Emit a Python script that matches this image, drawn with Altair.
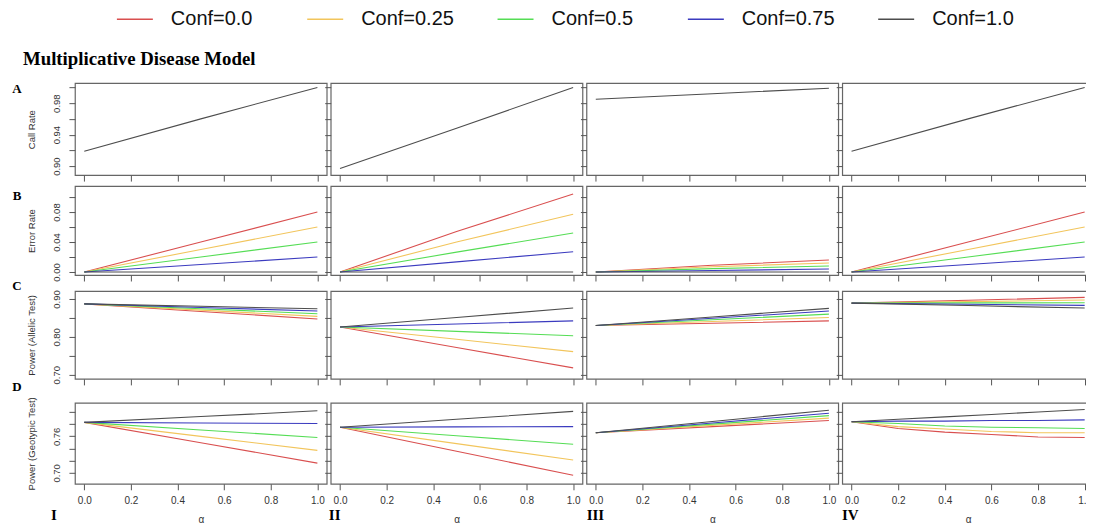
import altair as alt
import pandas as pd

# ---------------- data ----------------
conf_labels = ["Conf=0.0", "Conf=0.25", "Conf=0.5", "Conf=0.75", "Conf=1.0"]
conf_colors = ["#d94f4f", "#f2c55c", "#55dd55", "#3b3bbf", "#4d4d4d"]

x_3 = [0.0, 0.5, 1.0]
x_6 = [0.0, 0.2, 0.4, 0.6, 0.8, 1.0]

# Row A: call rate (identical for every confidence level, drawn as Conf=1.0)
call_I = [0.919, 0.960, 1.000]
call_II = [0.897, 0.948, 1.000]
call_III = [0.985, 0.992, 0.999]
call_IV = [0.919, 0.960, 1.000]

# Row B: error rate, series order = conf_labels
err_I = [[0, 0.040, 0.080], [0, 0.030, 0.060], [0, 0.020, 0.040], [0, 0.010, 0.020], [0, 0, 0]]
err_II = [[0, 0.054, 0.104], [0, 0.040, 0.077], [0, 0.0265, 0.052], [0, 0.0135, 0.027], [0, 0, 0]]
err_III = [[0, 0.009, 0.016], [0, 0.007, 0.012], [0, 0.0045, 0.008], [0, 0.002, 0.004], [0, 0, 0]]
err_IV = [[0, 0.040, 0.080], [0, 0.030, 0.060], [0, 0.020, 0.040], [0, 0.010, 0.020], [0, 0, 0]]

# Row C: power of the allelic test
alle_I = [[0.887, 0.867, 0.847], [0.887, 0.8705, 0.854], [0.887, 0.874, 0.861],
          [0.887, 0.8775, 0.868], [0.887, 0.8805, 0.874]]
alle_II = [[0.826, 0.772, 0.718], [0.826, 0.7935, 0.761], [0.826, 0.8145, 0.803],
           [0.826, 0.834, 0.842], [0.826, 0.851, 0.876]]
alle_III = [[0.830, 0.836, 0.842], [0.830, 0.8405, 0.851], [0.830, 0.845, 0.860],
            [0.830, 0.849, 0.868], [0.830, 0.8525, 0.875]]
alle_IV = [[0.889, 0.8965, 0.904], [0.889, 0.893, 0.897], [0.889, 0.8895, 0.890],
           [0.889, 0.886, 0.883], [0.889, 0.8825, 0.876]]

# Row D: power of the genotypic test
geno_I = [[0.783, 0.7495, 0.716], [0.783, 0.760, 0.737], [0.783, 0.7705, 0.758],
          [0.783, 0.782, 0.781], [0.783, 0.7925, 0.802]]
geno_II = [[0.775, 0.7355, 0.696], [0.775, 0.748, 0.721], [0.775, 0.761, 0.747],
           [0.775, 0.7755, 0.776], [0.775, 0.788, 0.801]]
geno_III = [[0.766, 0.776, 0.786], [0.766, 0.778, 0.790], [0.766, 0.780, 0.794],
            [0.766, 0.782, 0.798], [0.766, 0.7845, 0.803]]
geno_IV = [[0.784, 0.773, 0.767, 0.763, 0.759, 0.758],
           [0.784, 0.776, 0.772, 0.768, 0.766, 0.766],
           [0.784, 0.781, 0.777, 0.775, 0.774, 0.773],
           [0.784, 0.785, 0.785, 0.786, 0.786, 0.787],
           [0.784, 0.788, 0.792, 0.796, 0.800, 0.804]]

chart_title = "Multiplicative Disease Model"
row_titles = ["Call Rate", "Error Rate", "Power (Allelic Test)", "Power (Geotypic Test)"]
row_letters = ["A", "B", "C", "D"]
col_numerals = ["I", "II", "III", "IV"]
x_ticks = [0.0, 0.2, 0.4, 0.6, 0.8, 1.0]

y_domains = [[0.8886, 1.0054], [-0.004, 0.1147], [0.689, 0.921], [0.682, 0.815]]
y_ticks = [[0.90, 0.92, 0.94, 0.96, 0.98, 1.00],
           [0.00, 0.02, 0.04, 0.06, 0.08, 0.10],
           [0.70, 0.75, 0.80, 0.85, 0.90],
           [0.70, 0.72, 0.74, 0.76, 0.78, 0.80]]
y_shown = [["0.90", "0.94", "0.98"], ["0.00", "0.04", "0.08"],
           ["0.70", "0.80", "0.90"], ["0.70", "0.76"]]

# ---------------- layout ----------------
PW = 252
row_heights = [92, 89, 88, 81]
spacer_heights = [1, 6, 14]          # extra gap after rows A, B, C
letter_dy = [6, 10, -5, -16]
numeral_dx = [-21, 4, 9, 8]
SERIF = "Liberation Serif"
SANS = "Liberation Sans"
AX = "#555555"


def frame(x, series, single=False):
    recs = []
    if single:
        for xv, yv in zip(x, series):
            recs.append({"x": xv, "y": yv, "conf": conf_labels[4], "k": 4})
    else:
        for k, ys in enumerate(series):
            for xv, yv in zip(x, ys):
                recs.append({"x": xv, "y": yv, "conf": conf_labels[k], "k": k})
    return pd.DataFrame(recs)


def text_layer(txt, xpx, ypx, size, align="center"):
    return alt.Chart(pd.DataFrame({"t": [txt]})).mark_text(
        font=SERIF, fontWeight="bold", fontSize=size, color="black",
        align=align, baseline="middle"
    ).encode(x=alt.value(xpx), y=alt.value(ypx), text="t:N")


def panel(df, r, c):
    last_row = r == 3
    first_col = c == 0
    if last_row:
        xaxis = alt.Axis(values=x_ticks, format=".1f", labels=True, ticks=True, tickSize=6,
                         domain=False, grid=False, labelFontSize=10, labelPadding=6,
                         labelFont=SANS, labelColor="#333333", title="α", titleFontSize=10,
                         titleFontWeight="normal", titleFont=SANS, titleColor="#333333",
                         titlePadding=9, tickColor=AX)
    else:
        xaxis = alt.Axis(values=x_ticks, labels=False, ticks=True, tickSize=6,
                         domain=False, grid=False, title=None, tickColor=AX)
    if first_col:
        shown = ",".join("'%s'" % s for s in y_shown[r])
        yaxis = alt.Axis(values=y_ticks[r], format=".2f", labels=True, ticks=True, tickSize=6,
                         domain=False, grid=False, labelAngle=270, labelAlign="center",
                         labelBaseline="bottom", labelPadding=7, labelFontSize=9.5,
                         labelFont=SANS, labelColor="#333333",
                         labelExpr="indexof([%s], datum.label) >= 0 ? datum.label : ''" % shown,
                         title=row_titles[r], titleFontSize=9.5, titleFont=SANS,
                         titleFontWeight="normal", titleColor="#333333", titlePadding=15,
                         tickColor=AX)
    else:
        yaxis = alt.Axis(values=y_ticks[r], labels=False, ticks=True, tickSize=6,
                         domain=False, grid=False, title=None, tickColor=AX)

    lines = alt.Chart(df).mark_line(strokeWidth=1.1).encode(
        x=alt.X("x:Q", scale=alt.Scale(domain=[-0.04, 1.04], nice=False, zero=False), axis=xaxis),
        y=alt.Y("y:Q", scale=alt.Scale(domain=y_domains[r], nice=False, zero=False), axis=yaxis),
        color=alt.Color("conf:N", scale=alt.Scale(domain=conf_labels, range=conf_colors), title=None),
        order=alt.Order("k:Q"),
    )
    layers = [lines]
    if first_col:
        layers.append(text_layer(row_letters[r], -58, letter_dy[r], 13))
    if first_col and r == 0:
        layers.append(text_layer(chart_title, -52, -24, 18.8, align="left"))
    if last_row:
        layers.append(text_layer(col_numerals[c], numeral_dx[c], 112, 15))
    return alt.layer(*layers).properties(width=PW, height=row_heights[r])


def spacer(h):
    return alt.Chart(pd.DataFrame({"a": [0]})).mark_point(opacity=0).encode(
        x=alt.value(0), y=alt.value(0)
    ).properties(width=PW, height=h, view=alt.ViewBackground(stroke="transparent"))


panels_data = [
    [frame(x_3, call_I, True), frame(x_3, call_II, True), frame(x_3, call_III, True), frame(x_3, call_IV, True)],
    [frame(x_3, err_I), frame(x_3, err_II), frame(x_3, err_III), frame(x_3, err_IV)],
    [frame(x_3, alle_I), frame(x_3, alle_II), frame(x_3, alle_III), frame(x_3, alle_IV)],
    [frame(x_3, geno_I), frame(x_3, geno_II), frame(x_3, geno_III), frame(x_6, geno_IV)],
]

cells = []
for r in range(4):
    for c in range(4):
        cells.append(panel(panels_data[r][c], r, c))
    if r < 3:
        for c in range(4):
            cells.append(spacer(spacer_heights[r]))

chart = alt.concat(*cells, columns=4, spacing={"row": 5, "column": 4}, bounds="flush").properties(
    padding={"left": 3, "top": -8, "right": -9, "bottom": 0},
).configure_view(
    stroke="#666666", strokeWidth=1.2
).configure_legend(
    orient="none", legendX=41, legendY=-83, direction="horizontal", columns=5,
    gridAlign="all", columnPadding=40.5, symbolType="stroke", symbolSize=1296,
    symbolStrokeWidth=1.4, labelFont=SANS, labelFontSize=20, labelColor="#111111",
    labelOffset=17, padding=0, labelLimit=0
)

chart.save("out.html", embed_options={"renderer": "svg", "actions": False})
